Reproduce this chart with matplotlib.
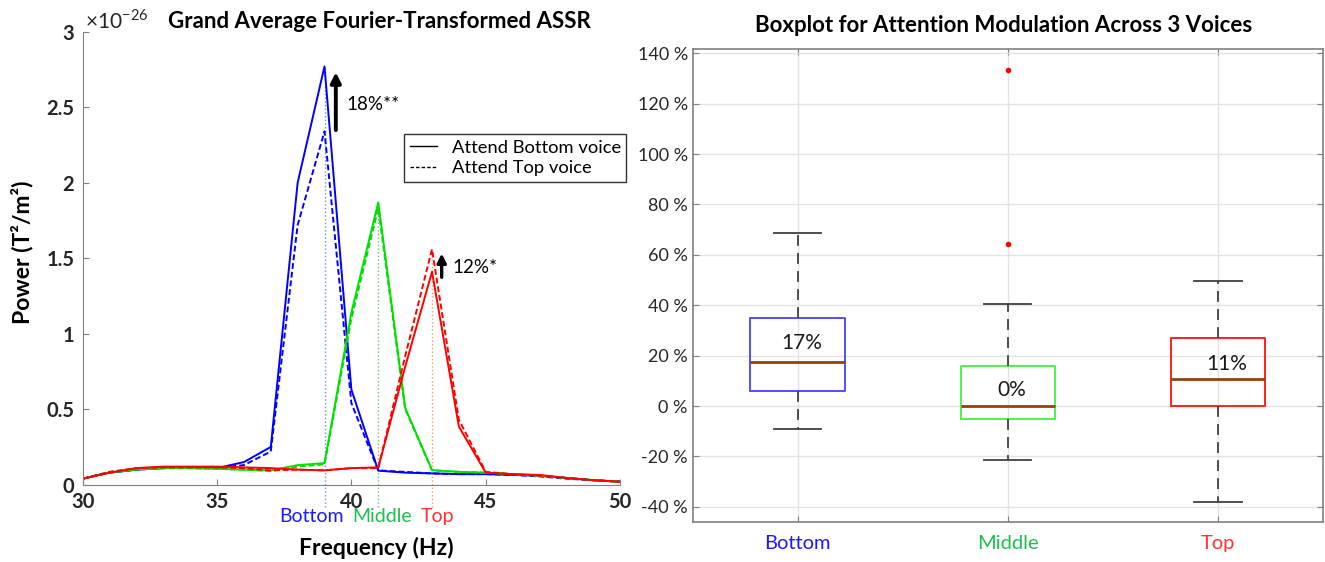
import matplotlib
matplotlib.use("Agg")
import matplotlib.pyplot as plt
from matplotlib.ticker import FuncFormatter
from matplotlib.lines import Line2D

plt.rcParams['font.family'] = ['Lato', 'DejaVu Sans']
plt.rcParams['mathtext.fontset'] = 'custom'
plt.rcParams['mathtext.rm'] = 'Lato'

# ---- left panel data (power, units of 1e-26 T^2/m^2) ----
freqs = list(range(30, 51))
bottom_attB = [0.04, 0.08, 0.10, 0.11, 0.115, 0.11, 0.15, 0.25, 2.00, 2.77, 0.63, 0.093,
               0.08, 0.075, 0.07, 0.07, 0.065, 0.06, 0.045, 0.03, 0.02]
bottom_attT = [0.04, 0.08, 0.10, 0.11, 0.11, 0.11, 0.13, 0.22, 1.72, 2.34, 0.54, 0.095,
               0.085, 0.075, 0.07, 0.07, 0.065, 0.055, 0.04, 0.03, 0.02]
middle_attB = [0.04, 0.08, 0.10, 0.11, 0.11, 0.105, 0.10, 0.095, 0.13, 0.143, 1.14, 1.87,
               0.51, 0.097, 0.085, 0.08, 0.07, 0.06, 0.045, 0.03, 0.02]
middle_attT = [0.04, 0.085, 0.105, 0.11, 0.11, 0.105, 0.10, 0.09, 0.12, 0.135, 1.10, 1.83,
               0.50, 0.095, 0.085, 0.08, 0.07, 0.06, 0.045, 0.03, 0.02]
top_attB = [0.04, 0.08, 0.11, 0.12, 0.12, 0.12, 0.115, 0.11, 0.10, 0.095, 0.11, 0.115,
            0.78, 1.41, 0.385, 0.08, 0.07, 0.065, 0.045, 0.03, 0.02]
top_attT = [0.04, 0.085, 0.11, 0.115, 0.115, 0.115, 0.11, 0.095, 0.10, 0.095, 0.11, 0.11,
            0.85, 1.56, 0.43, 0.085, 0.07, 0.06, 0.045, 0.03, 0.02]
voice_freqs = [39, 41, 43]
voice_names = ["Bottom", "Middle", "Top"]

# ---- right panel data (attention modulation, %) ----
box_q1 = [5.9, -5.0, 0.0]
box_med = [17.5, 0.0, 10.8]
box_q3 = [34.8, 16.0, 27.0]
box_lo = [-9.1, -21.4, -37.9]
box_hi = [68.7, 40.6, 49.8]
box_fliers = [[], [133.4, 64.4], []]
box_text = ["17%", "0%", "11%"]
box_text_y = [25.0, 6.5, 16.7]

line_cols = ['#0000ff', '#00e000', '#ff0000']
dot_cols = ['#5b9bd5', '#70c070', '#f0a060']
label_cols = ['#1a1aff', '#1fbf4f', '#ff3333']
box_cols = ['#5050ff', '#50f050', '#ff2020']
spine_grey = '#808080'
tick_grey = '#262626'

fig = plt.figure(figsize=(13.25, 5.62), dpi=100)

# ================= left panel =================
ax = fig.add_axes([0.0624, 0.1375, 0.4056, 0.8061])
series = [(bottom_attB, bottom_attT), (middle_attB, middle_attT), (top_attB, top_attT)]
for (sB, sT), c in zip(series, line_cols):
    ax.plot(freqs, sB, '-', color=c, lw=1.4)
    ax.plot(freqs, sT, '--', color=c, lw=1.4, dashes=(3, 1.5))

for f, (sB, sT), c in zip(voice_freqs, series, dot_cols):
    peak = max(sB[freqs.index(f)], sT[freqs.index(f)])
    ax.plot([f, f], [-0.146, peak], ':', color=c, lw=1.0, clip_on=False, zorder=1)

ax.set_xlim(30, 50)
ax.set_ylim(0, 3)
ax.set_xticks([30, 35, 40, 45, 50])
ax.set_yticks([0, 0.5, 1, 1.5, 2, 2.5, 3])
ax.yaxis.set_major_formatter(FuncFormatter(lambda v, p: f"{v:g}"))
for s in ['top', 'right']:
    ax.spines[s].set_visible(False)
for s in ['left', 'bottom']:
    ax.spines[s].set_color(spine_grey)
ax.tick_params(direction='in', length=4, color=spine_grey, labelsize=14.5,
               labelcolor=tick_grey)
ax.tick_params(axis='x', pad=5)
ax.tick_params(axis='y', pad=6)
for lab in ax.get_xticklabels() + ax.get_yticklabels():
    lab.set_fontweight('bold')

ax.text(0.004, 1.024, r'$\times10^{-26}$', transform=ax.transAxes, fontsize=15,
        color=tick_grey, ha='left', va='center')

xt = [38.5, 41.13, 43.2]
for x, name, c in zip(xt, voice_names, label_cols):
    ax.text(x, -0.0706, name, color=c, fontsize=14, ha='center', va='center',
            transform=ax.get_xaxis_transform())

ax.text(0.546, -0.14, "Frequency (Hz)", transform=ax.transAxes, fontsize=16.5,
        fontweight='bold', ha='center', va='center')
ax.text(-0.112, 0.514, "Power (T²/m²)", transform=ax.transAxes, fontsize=16.5,
        fontweight='bold', ha='center', va='center', rotation=90)
ax.text(0.553, 1.022, "Grand Average Fourier-Transformed ASSR", transform=ax.transAxes,
        fontsize=16, fontweight='bold', ha='center', va='center')

ax.annotate('', xy=(39.42, 2.75), xytext=(39.42, 2.33),
            arrowprops=dict(arrowstyle='-|>', color='black', lw=2.8, mutation_scale=15))
ax.text(39.83, 2.52, "18%**", fontsize=13.5, ha='left', va='center')
ax.annotate('', xy=(43.36, 1.55), xytext=(43.36, 1.355),
            arrowprops=dict(arrowstyle='-|>', color='black', lw=2.4, mutation_scale=13))
ax.text(43.75, 1.44, "12%*", fontsize=13.5, ha='left', va='center')

handles = [Line2D([], [], color='black', lw=1.0, ls='-'),
           Line2D([], [], color='black', lw=1.0, ls='--', dashes=(2.5, 1.5))]
leg = ax.legend(handles, ["Attend Bottom voice", "Attend Top voice"], loc='upper left',
                bbox_to_anchor=(0.598, 0.774), fontsize=13.2, frameon=True, fancybox=False,
                edgecolor='black', handlelength=1.5, borderpad=0.3, labelspacing=0.25,
                handletextpad=0.8, borderaxespad=0)
leg.get_frame().set_linewidth(1.0)

# ================= right panel =================
ax2 = fig.add_axes([0.5228, 0.0712, 0.4757, 0.8416])
stats = []
for i in range(3):
    stats.append(dict(med=box_med[i], q1=box_q1[i], q3=box_q3[i], whislo=box_lo[i],
                      whishi=box_hi[i], fliers=box_fliers[i], label=voice_names[i]))
bp = ax2.bxp(stats, positions=[1, 2, 3], widths=0.45, showfliers=True, patch_artist=False,
             medianprops=dict(color='#8b4513', lw=2.0),
             whiskerprops=dict(color='#404040', lw=1.3, ls=(0, (6, 4))),
             capprops=dict(color='#404040', lw=1.3),
             flierprops=dict(marker='o', markerfacecolor='red', markeredgecolor='red',
                             markersize=3, ls='none'))
for b, c in zip(bp['boxes'], box_cols):
    b.set_color(c)
    b.set_linewidth(1.4)
for cap in bp['caps']:
    x = cap.get_xdata()
    mid = (x[0] + x[1]) / 2
    cap.set_xdata([mid - 0.1125, mid + 0.1125])

for x, t, y in zip([1.02, 2.02, 3.04], box_text, box_text_y):
    ax2.text(x, y, t, fontsize=15, ha='center', va='center', color='#1a1a1a')

ax2.set_xlim(0.5, 3.5)
ax2.set_ylim(-46, 141.7)
ax2.set_yticks(list(range(-40, 141, 20)))
ax2.yaxis.set_major_formatter(FuncFormatter(lambda v, p: f"{int(v)} %"))
ax2.set_xticks([1, 2, 3])
ax2.set_xticklabels([])
ax2.grid(True, color='#e3e3e3', lw=1.0)
ax2.set_axisbelow(True)
for s in ax2.spines.values():
    s.set_color(spine_grey)
    s.set_linewidth(1.2)
ax2.tick_params(axis='y', direction='in', length=4, color=spine_grey, labelsize=13,
                labelcolor=tick_grey, right=True)
ax2.tick_params(axis='x', direction='in', length=4, color=spine_grey, top=True)
for i, (name, c) in enumerate(zip(voice_names, label_cols)):
    ax2.text(i + 1, -0.046, name, color=c, fontsize=14.5, ha='center', va='center',
             transform=ax2.get_xaxis_transform())
ax2.text(0.494, 1.049, "Boxplot for Attention Modulation Across 3 Voices",
         transform=ax2.transAxes, fontsize=16, fontweight='bold', ha='center', va='center')

fig.savefig("out.png", dpi=100)
